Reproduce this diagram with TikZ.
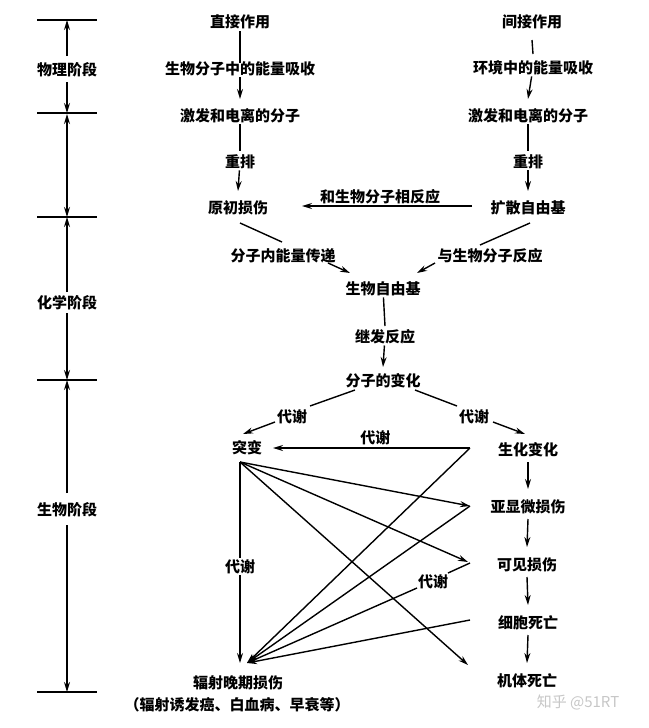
\documentclass[tikz,border=0pt]{standalone}
\usepackage{fontspec}
\setmainfont{Noto Sans CJK SC}
\usetikzlibrary{arrows.meta,calc}
\tikzset{
  lbl/.style={font=\fontsize{15}{17}\selectfont\bfseries, inner sep=1pt},
  ln/.style={draw, line width=1.4pt},
  arr/.style={draw, line width=1.4pt, -{Stealth[length=10pt,width=6pt]}},
  darr/.style={draw, line width=1.4pt, {Stealth[length=10pt,width=6pt]}-{Stealth[length=10pt,width=6pt]}},
  tick/.style={draw, line width=1.6pt},
  wm/.style={font=\fontsize{15}{17}\selectfont, text=black!22, inner sep=1pt}
}
\begin{document}
\begin{tikzpicture}[x=1pt,y=-1pt]
\useasboundingbox (0,0) rectangle (648,728);
\fill[white] (0,0) rectangle (648,728);

% ---- left scale ----
\coordinate (t1) at (67,20);
\coordinate (t2) at (67,113);
\coordinate (t3) at (67,217);
\coordinate (t4) at (67,380);
\coordinate (t5) at (67,692);
\foreach \t in {t1,t2,t3,t4,t5}{
  \draw[tick] ($(\t)+(-30,0)$) -- ($(\t)+(30,0)$);
}
\node[lbl] (p1) at (67,70) {物理阶段};
\node[lbl] (p2) at (67,303) {化学阶段};
\node[lbl] (p3) at (67,510) {生物阶段};
\draw[arr] ($(p1)+(0,-14)$) -- (t1);
\draw[arr] ($(p1)+(0,12)$) -- (t2);
\draw[darr] ($(t2)+(0,1)$) -- (t3);
\draw[arr] ($(p2)+(0,-11)$) -- (t3);
\draw[arr] ($(p2)+(0,10)$) -- (t4);
\draw[arr] ($(p3)+(0,-17)$) -- (t4);
\draw[arr] ($(p3)+(0,15)$) -- (t5);

% ---- nodes ----
\node[lbl] (zj)  at (240,22)  {直接作用};
\node[lbl] (jj)  at (532,22)  {间接作用};
\node[lbl] (sw)  at (240,69)  {生物分子中的能量吸收};
\node[lbl] (hj)  at (533,68)  {环境中的能量吸收};
\node[lbl] (jf1) at (240,116) {激发和电离的分子};
\node[lbl] (jf2) at (528,116) {激发和电离的分子};
\node[lbl] (cp1) at (240,162) {重排};
\node[lbl] (cp2) at (528,162) {重排};
\node[lbl] (yc)  at (238,208) {原初损伤};
\node[lbl] (ks)  at (528,208) {扩散自由基};
\node[lbl] (fz)  at (283,256) {分子内能量传递};
\node[lbl] (ys)  at (490,256) {与生物分子反应};
\node[lbl] (swz) at (383,289) {生物自由基};
\node[lbl] (jfy) at (385,337) {继发反应};
\node[lbl] (fzb) at (383,381) {分子的变化};
\node[lbl] (dxl) at (292,417) {代谢};
\node[lbl] (dxr) at (474,417) {代谢};
\node[lbl] (tb)  at (247,448) {突变};
\node[lbl] (sh)  at (528,450) {生化变化};
\node[lbl] (yx)  at (528,507) {亚显微损伤};
\node[lbl] (kj)  at (527,565) {可见损伤};
\node[lbl] (xb)  at (528,623) {细胞死亡};
\node[lbl] (jt)  at (527,681) {机体死亡};
\node[lbl] (fs)  at (238,683) {辐射晚期损伤};
\node[lbl] (fsp) at (237,705) {（辐射诱发癌、白血病、早衰等）};
\node[lbl] (dxk) at (433,582) {代谢};
\node[wm]  (wmk) at (578,702) {知乎 @51RT};

% ---- upper connectors ----
\draw[ln]  ($(zj)+(0,9)$) -- ($(sw)+(0,-6)$);
\draw[arr] (sw) -- ($(jf1)+(0,-17)$);
\draw[ln]  (jf1) -- ($(cp1)+(0,-11)$);
\draw[arr] (cp1) -- ($(yc)+(0,-17)$);
\draw[ln]  ($(jj)+(0,18)$) -- ($(hj)+(0,-14)$);
\draw[arr] (hj) -- ($(jf2)+(0,-17)$);
\draw[ln]  (jf2) -- ($(cp2)+(0,-11)$);
\draw[arr] (cp2) -- ($(ks)+(0,-17)$);
\draw[arr] ($(ks)+(-56,-2)$) -- node[lbl, above=0pt, pos=0.54] {和生物分子相反应} ($(yc)+(64,-2)$);

\draw[ln]  ($(yc)+(2,15)$) -- ($(fz)+(-1,-14)$);
\draw[arr] ($(fz)+(45,7)$) -- ($(swz)+(-33,-16)$);
\draw[ln]  ($(ks)+(2,15)$) -- ($(ys)+(-10,-11)$);
\draw[arr] ($(ys)+(-55,7)$) -- ($(swz)+(34,-16)$);

\draw[ln]  (swz) -- ($(jfy)+(0,-11)$);
\draw[arr] (jfy) -- ($(fzb)+(0,-14)$);

\draw[ln]  ($(fzb)+(-28,9)$) -- ($(dxl)+(18,-11)$);
\draw[arr] ($(dxl)+(-17,5)$) -- ($(tb)+(-4,-14)$);
\draw[ln]  ($(fzb)+(32,9)$) -- ($(dxr)+(-17,-11)$);
\draw[arr] ($(dxr)+(19,5)$) -- ($(sh)+(-3,-16)$);

% ---- lower connectors ----
\draw[arr] ($(sh)+(-58,-2)$) -- node[lbl, above=1pt, pos=0.48] {代谢} ($(tb)+(26,0)$);

\draw[arr] ($(tb)+(-7,14)$) -- ($(yx)+(-58,-1)$);
\draw[arr] ($(tb)+(-7,14)$) -- ($(kj)+(-59,-3)$);
\draw[arr] ($(tb)+(-7,14)$) -- ($(jt)+(-59,-16)$);
\draw[arr] ($(tb)+(-7,14)$) -- node[lbl, fill=white, pos=0.52] {代谢} ($(fs)+(2,-20)$);

\draw[arr] ($(sh)+(-58,-2)$) -- ($(fs)+(9,-20)$);
\draw[arr] ($(yx)+(-58,-1)$) -- ($(fs)+(9,-20)$);
\draw[ln]  ($(kj)+(-57,-2)$) -- ($(dxk)+(15,-9)$);
\draw[arr] ($(dxk)+(-16,6)$) -- ($(fs)+(9,-20)$);
\draw[arr] ($(xb)+(-58,-3)$) -- ($(fs)+(9,-20)$);

\draw[arr] ($(sh)+(0,12)$) -- ($(yx)+(0,-18)$);
\draw[arr] ($(yx)+(0,12)$) -- ($(kj)+(0,-18)$);
\draw[arr] ($(kj)+(0,12)$) -- ($(xb)+(0,-18)$);
\draw[arr] ($(xb)+(0,12)$) -- ($(jt)+(0,-18)$);
\end{tikzpicture}
\end{document}
